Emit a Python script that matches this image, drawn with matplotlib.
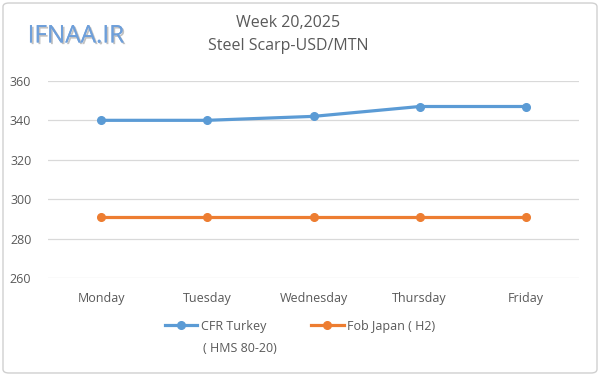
import matplotlib
matplotlib.use('Agg')
import matplotlib.pyplot as plt
import matplotlib.patheffects as pe
from matplotlib.patches import FancyBboxPatch

days = ['Monday', 'Tuesday', 'Wednesday', 'Thursday', 'Friday']
cfr_turkey = [340, 340, 342, 347, 347]
fob_japan = [291, 291, 291, 291, 291]
yticks = [260, 280, 300, 320, 340, 360]

plt.rcParams['font.family'] = ['Open Sans', 'DejaVu Sans']
txt = '#595959'

fig = plt.figure(figsize=(6, 3.76), dpi=100)
ax = fig.add_axes([0.08, 0.26, 0.885, 0.525])

x = range(len(days))
ax.plot(x, cfr_turkey, '-o', color='#5B9BD5', lw=2.3, ms=5.5, label='CFR Turkey')
ax.plot(x, fob_japan, '-o', color='#ED7D31', lw=2.3, ms=5.5, label='Fob Japan ( H2)')

ax.set_xlim(-0.5, len(days) - 0.5)
ax.set_ylim(260, 360)
ax.set_yticks(yticks)
ax.set_xticks(list(x))
ax.set_xticklabels(days)
ax.tick_params(length=0, labelsize=9, colors=txt, pad=10)
ax.tick_params(axis='y', pad=12)
ax.grid(axis='y', color='#D9D9D9', lw=0.9)
ax.set_axisbelow(True)
for s in ax.spines.values():
    s.set_visible(False)

fig.text(0.48, 0.94, 'Week 20,2025', ha='center', va='center', fontsize=11.5, color=txt)
fig.text(0.48, 0.877, 'Steel Scarp-USD/MTN', ha='center', va='center', fontsize=11.5, color=txt)
fig.text(0.046, 0.903, 'IFNAA.IR', ha='left', va='center', fontsize=17.5, color='#6E9FDA',
         path_effects=[pe.withSimplePatchShadow(offset=(1.2, -1.2), shadow_rgbFace='#9A9A9A', alpha=0.6),
                       pe.Normal()])

leg = fig.legend(loc='center', bbox_to_anchor=(0.5, 0.132), ncol=2, frameon=False,
                 fontsize=9, handlelength=2.6, columnspacing=3.6, handletextpad=0.3)
for t in leg.get_texts():
    t.set_color(txt)
fig.text(0.338, 0.072, '( HMS 80-20)', ha='left', va='center', fontsize=9, color=txt)

fig.patches.append(FancyBboxPatch((0.005, 0.008), 0.99, 0.984, boxstyle='round,pad=0,rounding_size=0.01',
                                  transform=fig.transFigure, fill=False, ec='#D0D0D0', lw=1))

fig.savefig('out.png', dpi=100)
